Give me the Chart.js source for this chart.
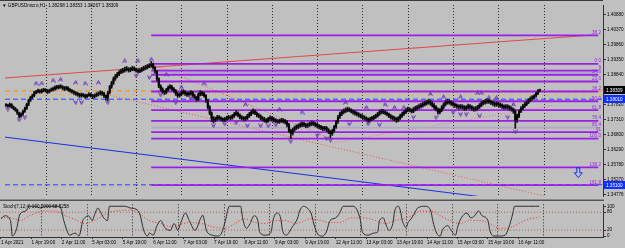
<!DOCTYPE html>
<html>
<head>
<meta charset="utf-8">
<script src="https://cdn.jsdelivr.net/npm/chart.js@4.4.0/dist/chart.umd.min.js"></script>
<style>
html, body { margin: 0; padding: 0; background: #c0c0c0; }
#wrap { position: relative; width: 625px; height: 248px; overflow: hidden; }
canvas { position: absolute; left: 0; }
#main { top: 0; }
#stoch { top: 201px; }
</style>
</head>
<body>
<div id="wrap">
  <canvas id="main" width="625" height="201"></canvas>
  <canvas id="stoch" width="625" height="47"></canvas>
</div>
<script>
// ---- data: GBPUSDmicro H1, 1 Apr .. 16 Apr 2021 ----
const firstOpen = 1.3782;
const closes = [
1.3780,1.3777,1.3783,1.3774,1.3770,1.3764,1.3754,1.3744,1.3750,1.3760,
1.3770,1.3783,1.3797,1.3807,1.3813,1.3823,1.3826,1.3830,1.3826,1.3830,
1.3833,1.3830,1.3826,1.3830,1.3833,1.3836,1.3840,1.3840,1.3843,1.3843,
1.3840,1.3836,1.3840,1.3833,1.3830,1.3826,1.3823,1.3820,1.3817,1.3813,
1.3817,1.3813,1.3810,1.3813,1.3817,1.3813,1.3810,1.3813,1.3817,1.3820,
1.3823,1.3820,1.3813,1.3807,1.3823,1.3843,1.3856,1.3870,1.3879,1.3886,
1.3893,1.3896,1.3899,1.3903,1.3903,1.3899,1.3903,1.3906,1.3903,1.3899,
1.3896,1.3899,1.3903,1.3906,1.3909,1.3913,1.3916,1.3919,1.3909,1.3896,
1.3870,1.3846,1.3836,1.3826,1.3823,1.3833,1.3840,1.3843,1.3836,1.3830,
1.3820,1.3813,1.3817,1.3823,1.3826,1.3820,1.3817,1.3820,1.3823,1.3813,
1.3807,1.3800,1.3817,1.3823,1.3820,1.3813,1.3797,1.3774,1.3754,1.3737,
1.3730,1.3734,1.3740,1.3737,1.3734,1.3730,1.3734,1.3737,1.3740,1.3737,
1.3744,1.3750,1.3754,1.3747,1.3740,1.3737,1.3734,1.3737,1.3744,1.3750,
1.3757,1.3760,1.3754,1.3747,1.3744,1.3737,1.3734,1.3730,1.3727,1.3734,
1.3737,1.3734,1.3730,1.3727,1.3724,1.3727,1.3730,1.3727,1.3724,1.3714,
1.3694,1.3684,1.3697,1.3704,1.3707,1.3711,1.3714,1.3717,1.3714,1.3711,
1.3714,1.3717,1.3721,1.3717,1.3714,1.3711,1.3707,1.3704,1.3701,1.3704,
1.3697,1.3691,1.3684,1.3694,1.3707,1.3724,1.3740,1.3750,1.3757,1.3760,
1.3764,1.3767,1.3764,1.3760,1.3757,1.3754,1.3750,1.3747,1.3744,1.3740,
1.3737,1.3734,1.3730,1.3734,1.3737,1.3740,1.3744,1.3750,1.3757,1.3760,
1.3757,1.3754,1.3750,1.3744,1.3740,1.3737,1.3734,1.3730,1.3737,1.3744,
1.3750,1.3757,1.3764,1.3767,1.3764,1.3760,1.3767,1.3770,1.3774,1.3777,
1.3780,1.3783,1.3787,1.3790,1.3793,1.3787,1.3780,1.3774,1.3767,1.3757,
1.3764,1.3774,1.3783,1.3790,1.3793,1.3790,1.3787,1.3783,1.3780,1.3777,
1.3774,1.3777,1.3774,1.3770,1.3774,1.3777,1.3774,1.3770,1.3767,1.3770,
1.3774,1.3780,1.3787,1.3790,1.3793,1.3797,1.3793,1.3790,1.3787,1.3783,
1.3787,1.3783,1.3780,1.3777,1.3774,1.3777,1.3774,1.3770,1.3767,1.3760,
1.3730,1.3744,1.3760,1.3770,1.3777,1.3783,1.3790,1.3797,1.3803,1.3807,
1.3812,1.3820,1.3830,1.38309
];
const highs = [
1.3786,1.3784,1.3788,1.3786,1.3778,1.3773,1.3767,1.3757,1.3755,1.3764,
1.3774,1.3787,1.3801,1.3811,1.3818,1.3828,1.3831,1.3835,1.3834,1.3836,
1.3838,1.3837,1.3834,1.3835,1.3839,1.3842,1.3846,1.3848,1.3849,1.3850,
1.3847,1.3844,1.3845,1.3843,1.3837,1.3834,1.3830,1.3827,1.3824,1.3821,
1.3822,1.3821,1.3818,1.3818,1.3823,1.3821,1.3817,1.3819,1.3823,1.3826,
1.3830,1.3828,1.3824,1.3816,1.3828,1.3848,1.3862,1.3876,1.3885,1.3892,
1.3898,1.3903,1.3906,1.3910,1.3912,1.3908,1.3909,1.3913,1.3911,1.3907,
1.3904,1.3905,1.3909,1.3913,1.3916,1.3919,1.3922,1.3929,1.3924,1.3912,
1.3899,1.3874,1.3850,1.3840,1.3831,1.3838,1.3846,1.3851,1.3848,1.3840,
1.3834,1.3824,1.3822,1.3829,1.3833,1.3830,1.3825,1.3826,1.3830,1.3827,
1.3818,1.3811,1.3822,1.3830,1.3828,1.3824,1.3817,1.3800,1.3779,1.3758,
1.3742,1.3740,1.3746,1.3745,1.3741,1.3738,1.3739,1.3743,1.3746,1.3745,
1.3749,1.3756,1.3762,1.3758,1.3751,1.3745,1.3742,1.3743,1.3750,1.3756,
1.3763,1.3768,1.3765,1.3758,1.3752,1.3748,1.3742,1.3739,1.3735,1.3739,
1.3744,1.3742,1.3739,1.3735,1.3732,1.3733,1.3736,1.3735,1.3732,1.3728,
1.3719,1.3699,1.3703,1.3710,1.3714,1.3717,1.3721,1.3724,1.3722,1.3719,
1.3720,1.3723,1.3727,1.3726,1.3722,1.3719,1.3715,1.3712,1.3709,1.3709,
1.3708,1.3701,1.3695,1.3699,1.3712,1.3729,1.3746,1.3757,1.3763,1.3768,
1.3771,1.3774,1.3772,1.3768,1.3765,1.3762,1.3758,1.3755,1.3751,1.3748,
1.3745,1.3741,1.3738,1.3739,1.3743,1.3746,1.3750,1.3756,1.3763,1.3767,
1.3766,1.3762,1.3758,1.3754,1.3749,1.3745,1.3742,1.3739,1.3742,1.3750,
1.3757,1.3763,1.3770,1.3774,1.3772,1.3768,1.3773,1.3777,1.3780,1.3784,
1.3787,1.3790,1.3794,1.3797,1.3801,1.3798,1.3792,1.3786,1.3779,1.3772,
1.3769,1.3779,1.3788,1.3796,1.3801,1.3799,1.3795,1.3792,1.3788,1.3785,
1.3782,1.3783,1.3782,1.3779,1.3779,1.3784,1.3783,1.3779,1.3775,1.3776,
1.3780,1.3786,1.3793,1.3797,1.3800,1.3804,1.3802,1.3798,1.3795,1.3792,
1.3792,1.3791,1.3788,1.3785,1.3782,1.3783,1.3782,1.3779,1.3775,1.3771,
1.3765,1.3750,1.3765,1.3776,1.3783,1.3790,1.3796,1.3803,1.3809,1.3813,
1.3817,1.3824,1.3834,1.38353
];
const lows = [
1.3776,1.3773,1.3774,1.3770,1.3765,1.3760,1.3749,1.3737,1.3740,1.3746,
1.3756,1.3766,1.3779,1.3793,1.3803,1.3809,1.3819,1.3822,1.3821,1.3822,
1.3826,1.3825,1.3820,1.3822,1.3827,1.3829,1.3832,1.3835,1.3836,1.3838,
1.3834,1.3830,1.3832,1.3828,1.3825,1.3821,1.3817,1.3814,1.3811,1.3807,
1.3808,1.3808,1.3804,1.3805,1.3810,1.3808,1.3803,1.3805,1.3809,1.3812,
1.3815,1.3814,1.3806,1.3798,1.3796,1.3819,1.3838,1.3851,1.3865,1.3874,
1.3881,1.3888,1.3890,1.3893,1.3897,1.3893,1.3894,1.3898,1.3897,1.3893,
1.3890,1.3891,1.3894,1.3898,1.3901,1.3904,1.3908,1.3910,1.3903,1.3889,
1.3864,1.3840,1.3829,1.3820,1.3816,1.3819,1.3829,1.3835,1.3830,1.3824,
1.3814,1.3807,1.3808,1.3812,1.3818,1.3814,1.3810,1.3811,1.3815,1.3807,
1.3801,1.3794,1.3796,1.3812,1.3813,1.3808,1.3790,1.3768,1.3748,1.3725,
1.3720,1.3724,1.3729,1.3731,1.3728,1.3724,1.3725,1.3729,1.3732,1.3731,
1.3733,1.3739,1.3745,1.3741,1.3734,1.3731,1.3727,1.3728,1.3732,1.3739,
1.3745,1.3751,1.3748,1.3741,1.3738,1.3731,1.3727,1.3723,1.3720,1.3722,
1.3729,1.3727,1.3724,1.3721,1.3718,1.3719,1.3722,1.3720,1.3717,1.3707,
1.3688,1.3667,1.3679,1.3692,1.3698,1.3701,1.3705,1.3708,1.3708,1.3704,
1.3705,1.3708,1.3711,1.3711,1.3707,1.3704,1.3700,1.3697,1.3694,1.3695,
1.3691,1.3684,1.3670,1.3678,1.3689,1.3702,1.3719,1.3736,1.3745,1.3751,
1.3755,1.3758,1.3758,1.3754,1.3750,1.3747,1.3744,1.3740,1.3737,1.3734,
1.3730,1.3727,1.3722,1.3724,1.3728,1.3731,1.3735,1.3740,1.3746,1.3751,
1.3751,1.3748,1.3744,1.3738,1.3733,1.3730,1.3727,1.3722,1.3725,1.3732,
1.3739,1.3746,1.3752,1.3758,1.3758,1.3754,1.3755,1.3761,1.3764,1.3768,
1.3771,1.3774,1.3778,1.3781,1.3784,1.3780,1.3774,1.3767,1.3761,1.3750,
1.3751,1.3758,1.3768,1.3778,1.3784,1.3784,1.3780,1.3777,1.3773,1.3770,
1.3767,1.3768,1.3767,1.3763,1.3764,1.3768,1.3767,1.3763,1.3760,1.3761,
1.3764,1.3769,1.3775,1.3781,1.3784,1.3787,1.3787,1.3783,1.3780,1.3776,
1.3777,1.3776,1.3773,1.3770,1.3767,1.3768,1.3767,1.3763,1.3760,1.3753,
1.3702,1.3722,1.3738,1.3755,1.3765,1.3772,1.3779,1.3786,1.3792,1.3798,
1.3803,1.3808,1.3816,1.38267
];

// fractal marks [bar, price]
const fractalUp = [[16,1.3855],[19,1.3855],[25,1.3865],[29,1.3868],[37,1.3858],[42,1.3855],[49,1.3858],
  [63,1.3931],[70,1.3931],[77,1.3937],[85,1.3885],[93,1.3842],[105,1.3855],[127,1.3783],[145,1.3767],
  [157,1.3757],[180,1.3790],[191,1.3773],[201,1.3783],[206,1.3773],[211,1.3773],[219,1.3777],[225,1.3819],
  [232,1.3809],[241,1.3809],[250,1.3822],[252,1.3822],[256,1.3806],[260,1.3806],[269,1.3783]];
const fractalDown = [[1,1.3767],[7,1.3731],[10,1.3740],[37,1.3790],[40,1.3790],[54,1.3790],[69,1.3881],
  [76,1.3875],[82,1.3816],[90,1.3790],[98,1.3806],[110,1.3711],[116,1.3717],[122,1.3721],[128,1.3711],
  [135,1.3711],[139,1.3711],[143,1.3714],[151,1.3658],[165,1.3678],[170,1.3668],[172,1.3662],[182,1.3717],
  [192,1.3717],[198,1.3714],[216,1.3740],[228,1.3740],[237,1.3757],[241,1.3750],[244,1.3750],[251,1.3744],
  [266,1.3740],[270,1.3690]];

// fibonacci retracement (0 = 1.3921 high, 100 = 1.3667 low)
const fibLevels = [1.4018, 1.3921, 1.3898, 1.3891, 1.3884, 1.3861, 1.3827, 1.3794, 1.3764, 1.3727, 1.3704, 1.3689, 1.3667, 1.3569, 1.3509];
const fibLabels = ['38.2', '0.0', '9', '', '14.6', '23.6', '38.2', '50.0', '61.8', '76.4', '85.4', '91', '100.0', '138.2', '161.8'];
const paleFib = [3, 10];
const fibFrom = 77, fibTo = 314;

// trend lines [bar, price]
const redTrend = [[-0.5, 1.3873], [311, 1.4019]];
const blueTrend = [[-0.5, 1.3672], [253.5, 1.3468]];
const fibBase = [[77, 1.3921], [172, 1.3667]];
const fallLine = [[53.7, 1.3816], [286, 1.3471]];
const riseLine = [[173, 1.3652], [290, 1.3780]];
const blueLevels = [1.3801, 1.3510];
const orangeLevel = 1.3829, orangeLevel2 = 1.3816;

// right-hand price tags
const priceTicks = [1.40880, 1.40370, 1.39860, 1.39350, 1.38840, 1.38330, 1.37820, 1.37310, 1.36800, 1.36290, 1.35780, 1.35270, 1.34776];
const lastPrice = 1.38309;
const blueTags = [1.38010, 1.35100];

// stochastic (7,12,4)
const stochBars = [0,2,5,6,8,10,13,15,18,21,23,26,28,31,33,35,36,39,41,43,44,46,48,49,51,52,54,56,57,59,
  62,65,68,71,73,75,77,78,80,82,84,86,89,91,93,94,97,99,102,105,106,108,111,114,116,118,120,123,126,127,
  129,131,133,135,136,139,142,143,145,147,148,150,153,156,157,159,161,163,165,167,169,171,173,176,178,180,
  182,185,187,189,190,193,196,198,199,201,202,204,206,207,209,210,211,213,214,216,218,219,223,226,227,229,
  231,232,235,236,239,240,242,245,247,249,251,253,256,257,259,262,265,267,269,270,273,276,278,281,283];
const stochMain = [58,68,52,0,20,74,84,100,100,94,100,100,100,100,52,13,3,10,0,52,61,68,52,68,94,84,61,52,100,100,
  100,100,94,90,74,20,0,10,3,35,52,29,19,42,19,35,77,52,19,60,70,19,3,0,10,52,100,100,100,61,
  26,42,68,52,13,3,13,52,77,61,19,3,29,61,84,100,94,77,29,3,0,13,52,61,77,100,
  100,100,90,52,13,3,10,13,52,61,45,19,42,84,100,84,52,29,45,61,84,94,100,84,52,10,
  0,19,35,26,3,29,61,77,61,68,84,68,52,19,0,0,3,29,74,100,100,100,100,100,100];
const signalBars = [0,5,10,15,23,28,34,39,44,49,55,60,68,73,78,84,89,94,99,105,113,118,123,128,134,139,144,149,155,160,
  163,168,173,178,184,189,194,197,202,207,213,218,220,226,231,236,241,247,252,257,262,268,273,278,281,283];
const signalVals = [61,61,52,68,84,84,68,55,42,52,74,84,87,74,52,42,32,39,45,42,29,26,42,58,45,42,52,52,42,52,
  58,52,45,45,61,61,58,52,42,52,61,74,84,84,68,52,42,52,52,42,26,29,45,58,61,64];
const stochLevels = [80, 20];

// time axis
const dayBars = [21,45,69,93,117,141,165,189,213,237,261,285];
const timeBars = [0,16,32,48,64,80,96,112,128,144,160,176,192,208,224,240,256,272];
const timeLabels = ['1 Apr 2021','1 Apr 19:00','2 Apr 11:00','5 Apr 03:00','5 Apr 19:00','6 Apr 11:00','7 Apr 03:00',
  '7 Apr 19:00','8 Apr 11:00','9 Apr 03:00','9 Apr 19:00','12 Apr 11:00','13 Apr 03:00','13 Apr 19:00',
  '14 Apr 11:00','15 Apr 03:00','15 Apr 19:00','16 Apr 11:00'];

// ---- look ----
const FONT = "'Liberation Sans', Arial, sans-serif";
const FS = 4.6;
const PURPLE = '#9b1fe8';
const XMIN = -0.5, XMAX = 316.5;
Chart.defaults.font.family = FONT;
Chart.defaults.font.size = FS;
Chart.defaults.color = '#000';

function mark(up) {
  const c = document.createElement('canvas');
  c.width = 5; c.height = 5;
  const g = c.getContext('2d');
  g.strokeStyle = '#6a34b8'; g.lineWidth = 1;
  g.beginPath();
  if (up) { g.moveTo(0.5, 4.5); g.lineTo(2.5, 0.5); g.lineTo(4.5, 4.5); g.moveTo(1.5, 3); g.lineTo(3.5, 3); }
  else { g.moveTo(0.5, 0.5); g.lineTo(2.5, 4.5); g.lineTo(4.5, 0.5); g.moveTo(1.5, 2); g.lineTo(3.5, 2); }
  g.stroke();
  return c;
}

const pts = arr => arr.map(p => ({ x: p[0], y: p[1] }));
const seg = (data, color, dash, width) => ({
  type: 'line', data, borderColor: color, borderWidth: width || 1, borderDash: dash || [],
  pointRadius: 0, fill: false, order: 5
});

const opens = [firstOpen].concat(closes.slice(0, -1));

const dayGrid = {
  id: 'dayGrid',
  beforeDatasetsDraw(chart) {
    const { ctx, chartArea: a, scales: { x } } = chart;
    ctx.save();
    ctx.strokeStyle = '#2a2a2a'; ctx.lineWidth = 1; ctx.setLineDash([1, 2]);
    dayBars.forEach(b => {
      const px = Math.round(x.getPixelForValue(b)) + 0.5;
      ctx.beginPath(); ctx.moveTo(px, a.top); ctx.lineTo(px, a.bottom); ctx.stroke();
    });
    ctx.restore();
  }
};

const mainDecor = {
  id: 'mainDecor',
  afterDraw(chart) {
    const { ctx, chartArea: a, scales: { x, y } } = chart;
    ctx.save();
    ctx.font = FS + 'px ' + FONT;
    // fib labels
    ctx.fillStyle = PURPLE; ctx.textAlign = 'right'; ctx.textBaseline = 'bottom';
    fibLevels.forEach((p, i) => { if (fibLabels[i]) ctx.fillText(fibLabels[i], 601, y.getPixelForValue(p) - 0.5); });
    // title
    ctx.fillStyle = '#000'; ctx.textAlign = 'left'; ctx.textBaseline = 'middle';
    ctx.fillText('\u25BC GBPUSDmicro,H1  1.38298 1.38353 1.38267 1.38309', 2, 5.5);
    // frame
    ctx.fillStyle = '#3a3a3a';
    ctx.fillRect(0, 0, a.right, 1);
    ctx.fillStyle = '#555';
    ctx.fillRect(0, 199.5, a.right + 1, 2);
    // price tags
    const tag = (p, bg) => {
      const py = Math.round(y.getPixelForValue(p));
      ctx.fillStyle = bg; ctx.fillRect(a.right + 1, py - 4, 21, 8);
      ctx.fillStyle = '#fff'; ctx.textAlign = 'left'; ctx.textBaseline = 'middle';
      ctx.fillText(p.toFixed(5), a.right + 3, py + 0.5);
    };
    tag(lastPrice, '#000');
    blueTags.forEach(p => tag(p, '#1030ff'));
    // sell arrow
    const ax = x.getPixelForValue(303.4), ay = y.getPixelForValue(1.3551);
    ctx.strokeStyle = '#1030ff'; ctx.lineWidth = 1;
    ctx.beginPath();
    ctx.moveTo(ax - 1.5, ay - 5); ctx.lineTo(ax + 1.5, ay - 5); ctx.lineTo(ax + 1.5, ay);
    ctx.lineTo(ax + 4, ay); ctx.lineTo(ax, ay + 5); ctx.lineTo(ax - 4, ay); ctx.lineTo(ax - 1.5, ay); ctx.closePath();
    ctx.stroke();
    ctx.restore();
  }
};

const mainSets = [
  { label: 'wick', data: closes.map((c, i) => ({ x: i, y: [lows[i], highs[i]] })), backgroundColor: '#111',
    barThickness: 1, grouped: false, order: 1 },
  { label: 'body', data: closes.map((c, i) => ({ x: i, y: [opens[i], c] })), backgroundColor: '#000',
    barThickness: 1.4, minBarLength: 1, grouped: false, order: 0 },
  ...fibLevels.map((p, i) => seg([{ x: fibFrom, y: p }, { x: fibTo, y: p }], paleFib.includes(i) ? '#b0a8c8' : PURPLE, [], 1.8)),
  seg(pts(redTrend), '#e04848'),
  seg(pts(blueTrend), '#1a2ee0'),
  seg(pts(fibBase), '#f05050', [1, 2]),
  seg(pts(fallLine), '#f05050', [1, 2]),
  seg(pts(riseLine), '#ff60b0', [1, 2]),
  ...blueLevels.map(p => seg([{ x: XMIN, y: p }, { x: XMAX, y: p }], '#2040ff', [5, 3])),
  seg([{ x: XMIN, y: orangeLevel }, { x: XMAX, y: orangeLevel }], '#ff8c00', [5, 3]),
  seg([{ x: XMIN, y: orangeLevel2 }, { x: XMAX, y: orangeLevel2 }], '#e8b060', [4, 2, 1, 2]),
  { type: 'line', data: pts(fractalUp), showLine: false, pointStyle: mark(true), pointRadius: 3, order: 0 },
  { type: 'line', data: pts(fractalDown), showLine: false, pointStyle: mark(false), pointRadius: 3, order: 0 }
];

new Chart(document.getElementById('main'), {
  type: 'bar',
  data: { datasets: mainSets },
  options: {
    responsive: false, animation: false, maintainAspectRatio: false,
    layout: { padding: { top: 2, bottom: 1, left: 0, right: 0 } },
    plugins: { legend: { display: false }, tooltip: { enabled: false } },
    elements: { bar: { borderWidth: 0, borderSkipped: false } },
    scales: {
      x: { type: 'linear', min: XMIN, max: XMAX, offset: false, display: false },
      y: {
        position: 'right', min: 1.3472, max: 1.4121,
        afterBuildTicks: s => { s.ticks = priceTicks.map(v => ({ value: v })); },
        afterFit: s => { s.width = 22; },
        ticks: { callback: v => v.toFixed(5), padding: 1, color: '#000', font: { size: FS, lineHeight: 1 } },
        grid: { drawOnChartArea: false, tickLength: 3, color: '#333' },
        border: { color: '#333' }
      }
    }
  },
  plugins: [dayGrid, mainDecor]
});

const stochDecor = {
  id: 'stochDecor',
  afterDraw(chart) {
    const { ctx } = chart;
    ctx.save();
    ctx.font = FS + 'px ' + FONT;
    ctx.fillStyle = '#000'; ctx.textAlign = 'left'; ctx.textBaseline = 'middle';
    ctx.fillText('Stoch(7,12,4) 100.0000 68.5258', 3, 6);
    ctx.restore();
  }
};

new Chart(document.getElementById('stoch'), {
  type: 'line',
  data: {
    datasets: [
      { data: stochBars.map((b, i) => ({ x: b, y: stochMain[i] })), borderColor: '#2e2e2e', borderWidth: 1,
        pointRadius: 0, cubicInterpolationMode: 'monotone', order: 0 },
      { data: signalBars.map((b, i) => ({ x: b, y: signalVals[i] })), borderColor: '#ff2a2a', borderWidth: 1,
        borderDash: [1, 2], pointRadius: 0, cubicInterpolationMode: 'monotone', order: 1 },
      ...stochLevels.map(v => ({ data: [{ x: XMIN, y: v }, { x: XMAX, y: v }], borderColor: '#b06050',
        borderWidth: 1, borderDash: [1, 2], pointRadius: 0, order: 2 }))
    ]
  },
  options: {
    responsive: false, animation: false, maintainAspectRatio: false,
    layout: { padding: { top: 2, bottom: 0, left: 0, right: 0 } },
    plugins: { legend: { display: false }, tooltip: { enabled: false } },
    scales: {
      x: {
        type: 'linear', min: XMIN, max: XMAX, offset: false,
        afterBuildTicks: s => { s.ticks = timeBars.map(v => ({ value: v })); },
        afterFit: s => { s.height = 11; },
        ticks: { autoSkip: false, maxRotation: 0, minRotation: 0, align: 'start', padding: 1,
          callback: v => timeLabels[timeBars.indexOf(v)], font: { size: FS, lineHeight: 1 } },
        grid: { drawOnChartArea: false, tickLength: 2, color: '#333' },
        border: { color: '#333' }
      },
      y: {
        position: 'right', min: -3.2, max: 106.5,
        afterBuildTicks: s => { s.ticks = [100, 80, 20, 0].map(v => ({ value: v })); },
        afterFit: s => { s.width = 22; },
        ticks: { padding: 1, font: { size: FS, lineHeight: 1 } },
        grid: { drawOnChartArea: false, tickLength: 3, color: '#333' },
        border: { color: '#333' }
      }
    }
  },
  plugins: [dayGrid, stochDecor]
});
</script>
</body>
</html>
